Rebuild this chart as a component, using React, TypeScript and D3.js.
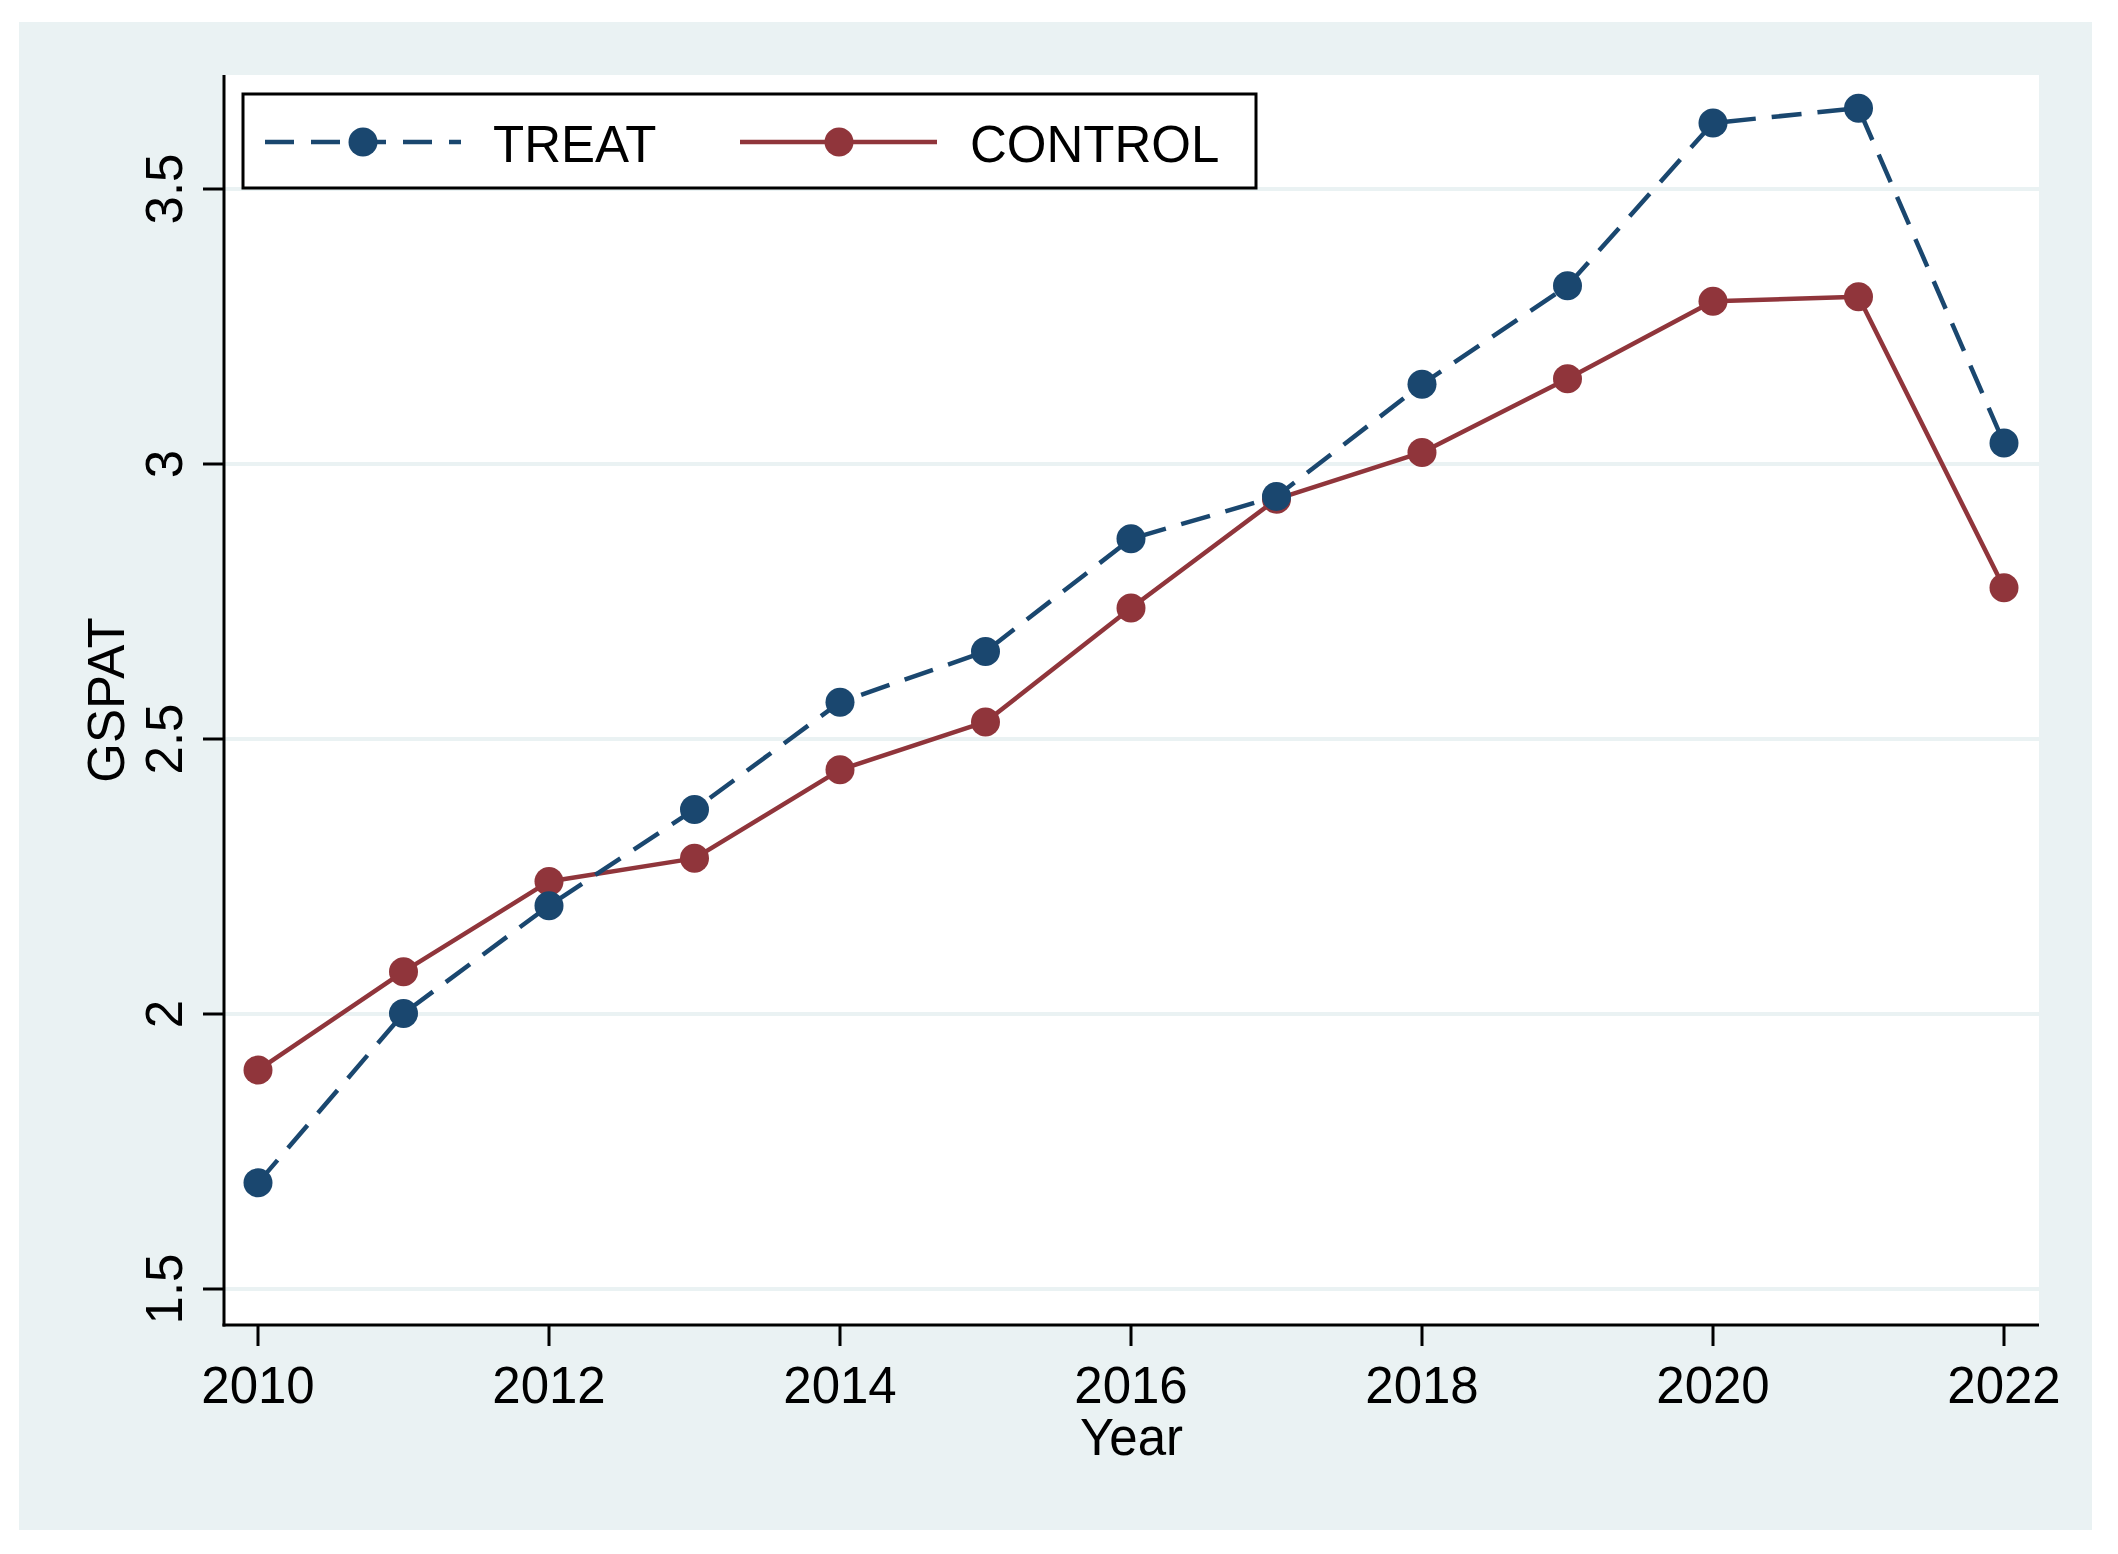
import React from "react";
import * as d3 from "d3";

const years = [2010, 2011, 2012, 2013, 2014, 2015, 2016, 2017, 2018, 2019, 2020, 2021, 2022];
const treat = [1.693, 2.001, 2.197, 2.372, 2.567, 2.659, 2.864, 2.941, 3.145, 3.324, 3.62, 3.647, 3.038];
const control = [1.898, 2.077, 2.241, 2.283, 2.444, 2.531, 2.738, 2.936, 3.021, 3.155, 3.296, 3.304, 2.775];
const yTicks = [1.5, 2, 2.5, 3, 3.5];
const xTicks = [2010, 2012, 2014, 2016, 2018, 2020, 2022];
const seriesNames = ["TREAT", "CONTROL"];

const W = 2118;
const H = 1554;
const NAVY = "#1a476f";
const MAROON = "#90353b";
const BG = "#eaf2f3";
const FONT = "'Liberation Sans', Arial, Helvetica, sans-serif";

export default function App() {
  const plotL = 224, plotR = 2039, plotT = 75, plotB = 1325;
  const x = d3.scaleLinear().domain([2010, 2022]).range([258, 2004]);
  const y = d3.scaleLinear().domain([1.5, 3.5]).range([1289, 189]);
  const line = d3.line<number>().x((_, i) => x(years[i])).y((d) => y(d));
  const fs = 51;

  return (
    <div style={{ position: "absolute", left: 0, top: 0 }}>
      <svg width={W} height={H} style={{ display: "block", background: "#fff" }} fontFamily={FONT}>
        <rect x={19} y={22} width={2092 - 19} height={1530 - 22} fill={BG} />
        <rect x={plotL} y={plotT} width={plotR - plotL} height={plotB - plotT} fill="#fff" />
        {yTicks.map((t) => (
          <line key={"g" + t} x1={plotL} x2={plotR} y1={y(t)} y2={y(t)} stroke={BG} strokeWidth={4} />
        ))}
        {/* axes */}
        <line x1={plotL} x2={plotL} y1={plotT} y2={plotB + 1.5} stroke="#000" strokeWidth={3} />
        <line x1={plotL - 1.5} x2={plotR} y1={plotB} y2={plotB} stroke="#000" strokeWidth={3} />
        {yTicks.map((t) => (
          <g key={"y" + t}>
            <line x1={203} x2={plotL} y1={y(t)} y2={y(t)} stroke="#000" strokeWidth={3} />
            <text
              transform={`translate(182,${y(t)}) rotate(-90)`}
              textAnchor="middle"
              fontSize={fs}
              fill="#000"
            >
              {String(t)}
            </text>
          </g>
        ))}
        {xTicks.map((t) => (
          <g key={"x" + t}>
            <line x1={x(t)} x2={x(t)} y1={plotB} y2={1346} stroke="#000" strokeWidth={3} />
            <text x={x(t)} y={1403} textAnchor="middle" fontSize={fs} fill="#000">
              {String(t)}
            </text>
          </g>
        ))}
        <text x={(plotL + plotR) / 2} y={1455} textAnchor="middle" fontSize={fs} fill="#000">
          Year
        </text>
        <text transform={`translate(124,${(plotT + plotB) / 2}) rotate(-90)`} textAnchor="middle" fontSize={fs} fill="#000">
          GSPAT
        </text>

        {/* series */}
        <path d={line(control) || ""} fill="none" stroke={MAROON} strokeWidth={4.5} strokeLinejoin="round" />
        <path d={line(treat) || ""} fill="none" stroke={NAVY} strokeWidth={4.5} strokeDasharray="30 16" />
        {control.map((v, i) => (
          <circle key={"c" + i} cx={x(years[i])} cy={y(v)} r={14.5} fill={MAROON} />
        ))}
        {treat.map((v, i) => (
          <circle key={"t" + i} cx={x(years[i])} cy={y(v)} r={14.5} fill={NAVY} />
        ))}

        {/* legend */}
        <rect x={243} y={94} width={1013} height={94} fill="#fff" stroke="#000" strokeWidth={3} />
        <line x1={265} x2={461} y1={142} y2={142} stroke={NAVY} strokeWidth={4.5} strokeDasharray="29 17" />
        <circle cx={363} cy={142} r={14.5} fill={NAVY} />
        <text x={493} y={162} fontSize={fs} fill="#000">{seriesNames[0]}</text>
        <line x1={740} x2={937} y1={142} y2={142} stroke={MAROON} strokeWidth={4.5} />
        <circle cx={839} cy={142} r={14.5} fill={MAROON} />
        <text x={970} y={162} fontSize={fs} fill="#000">{seriesNames[1]}</text>
      </svg>
    </div>
  );
}
